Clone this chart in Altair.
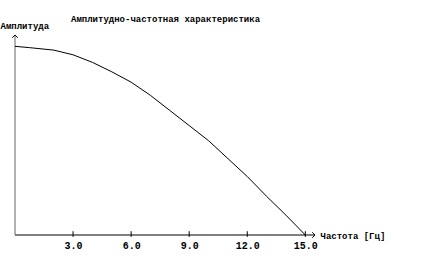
import altair as alt
import pandas as pd

freq = [0, 0.75, 2, 3, 4, 5, 6, 7, 8, 9, 10, 11, 12, 13, 14, 15]
amp = [1.0, 0.993, 0.98, 0.955, 0.915, 0.865, 0.81, 0.74, 0.66, 0.58, 0.50, 0.405, 0.31, 0.205, 0.105, 0.0]
tick_vals = [3, 6, 9, 12, 15]
tick_labels = ["3.0", "6.0", "9.0", "12.0", "15.0"]

XMAX = 15.5
YMAX = 1.06
FONT = "Liberation Mono"

df = pd.DataFrame({"f": freq, "a": amp})
ticks = pd.DataFrame({"t": tick_vals, "lab": tick_labels})

xs = alt.Scale(domain=[0, XMAX], nice=False, zero=False)
ys = alt.Scale(domain=[0, YMAX], nice=False, zero=False)

xaxis = alt.Axis(values=tick_vals, labelExpr="format(datum.value, '.1f')", domain=False, ticks=False,
                 grid=False, labelFont=FONT, labelFontSize=10, labelFontWeight="bold", labelColor="black",
                 labelPadding=5, title="Частота [Гц]", titleFont=FONT, titleFontSize=9, titleFontWeight="bold",
                 titleColor="black", titleAngle=0, titleX=305, titleY=0, titleAlign="left", titleBaseline="middle")
yaxis = alt.Axis(domain=False, ticks=False, labels=False, grid=False, title="Амплитуда", titleFont=FONT,
                 titleFontSize=9, titleFontWeight="bold", titleColor="black", titleAngle=0, titleX=-15,
                 titleY=-10, titleAlign="left", titleBaseline="middle")

curve = alt.Chart(df).mark_line(color="black", strokeWidth=1).encode(
    x=alt.X("f:Q", scale=xs, axis=xaxis),
    y=alt.Y("a:Q", scale=ys, axis=yaxis),
)

xline = alt.Chart(pd.DataFrame({"x0": [0], "x1": [XMAX], "y0": [0]})).mark_rule(color="black", strokeWidth=1).encode(
    x=alt.X("x0:Q", scale=xs), x2="x1:Q", y=alt.Y("y0:Q", scale=ys))
yline = alt.Chart(pd.DataFrame({"x0": [0], "y0": [0], "y1": [YMAX]})).mark_rule(color="#666666", strokeWidth=1).encode(
    x=alt.X("x0:Q", scale=xs), y=alt.Y("y0:Q", scale=ys), y2="y1:Q")

tickmarks = alt.Chart(ticks).transform_calculate(lo="-0.01", hi="0.02").mark_rule(color="black", strokeWidth=1).encode(
    x=alt.X("t:Q", scale=xs), y=alt.Y("lo:Q", scale=ys), y2="hi:Q")

xarrow = alt.Chart(pd.DataFrame({"x": [XMAX], "y": [0]})).mark_point(
    shape="M-1,-1L0,0L-1,1", size=30, color="black", filled=False, strokeWidth=1, opacity=1).encode(
    x=alt.X("x:Q", scale=xs), y=alt.Y("y:Q", scale=ys))
yarrow = alt.Chart(pd.DataFrame({"x": [0], "y": [YMAX]})).mark_point(
    shape="M-1,1L0,0L1,1", size=30, color="black", filled=False, strokeWidth=1, opacity=1).encode(
    x=alt.X("x:Q", scale=xs), y=alt.Y("y:Q", scale=ys))

chart = alt.layer(xline, yline, tickmarks, curve, xarrow, yarrow).properties(
    width=300, height=200,
    title=alt.TitleParams("Амплитудно-частотная характеристика", font=FONT, fontSize=9, fontWeight="bold",
                          color="black", anchor="start", dx=71, offset=-3),
    autosize=alt.AutoSizeParams(type="none"),
    padding={"left": 15, "top": 35, "right": 116, "bottom": 34},
    background="white",
).configure_view(stroke=None)

chart.save("out.html", embed_options={"renderer": "svg", "actions": False})
